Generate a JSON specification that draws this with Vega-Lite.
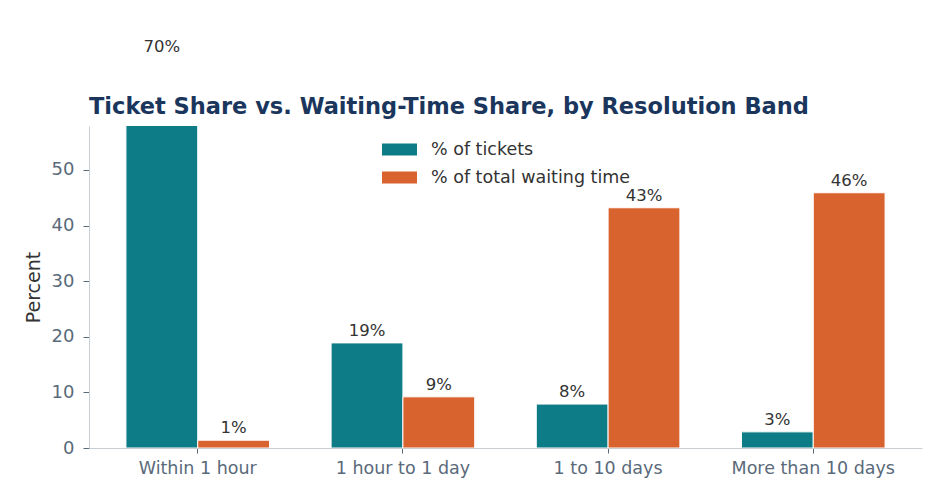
{
  "$schema": "https://vega.github.io/schema/vega-lite/v6.json",
  "width": 833,
  "height": 322,
  "autosize": {"type": "none"},
  "padding": {"left": 89, "top": 126, "right": 23, "bottom": 55},
  "background": "white",
  "title": {
    "text": "Ticket Share vs. Waiting-Time Share, by Resolution Band",
    "anchor": "start",
    "frame": "group",
    "font": "DejaVu Sans",
    "fontSize": 22.5,
    "fontWeight": "bold",
    "color": "#1b365d",
    "offset": -80
  },
  "config": {
    "view": {"stroke": null},
    "font": "DejaVu Sans"
  },
  "data": {
    "values": [
      {"band": "Within 1 hour", "series": "% of tickets", "value": 70.0, "label": "70%"},
      {"band": "Within 1 hour", "series": "% of total waiting time", "value": 1.4, "label": "1%"},
      {"band": "1 hour to 1 day", "series": "% of tickets", "value": 18.9, "label": "19%"},
      {"band": "1 hour to 1 day", "series": "% of total waiting time", "value": 9.2, "label": "9%"},
      {"band": "1 to 10 days", "series": "% of tickets", "value": 7.9, "label": "8%"},
      {"band": "1 to 10 days", "series": "% of total waiting time", "value": 43.2, "label": "43%"},
      {"band": "More than 10 days", "series": "% of tickets", "value": 2.9, "label": "3%"},
      {"band": "More than 10 days", "series": "% of total waiting time", "value": 45.9, "label": "46%"}
    ]
  },
  "encoding": {
    "x": {
      "field": "band",
      "type": "nominal",
      "sort": ["Within 1 hour", "1 hour to 1 day", "1 to 10 days", "More than 10 days"],
      "scale": {"paddingInner": 0.3, "paddingOuter": 0.18},
      "axis": {
        "title": null,
        "labelAngle": 0,
        "labelFontSize": 17.5,
        "labelColor": "#5a6a7a",
        "labelPadding": 6,
        "domainColor": "#c8cdd2",
        "tickColor": "#5a6a7a",
        "tickSize": 5,
        "tickBand": "center"
      }
    },
    "xOffset": {
      "field": "series",
      "type": "nominal",
      "sort": ["% of tickets", "% of total waiting time"]
    },
    "y": {
      "field": "value",
      "type": "quantitative",
      "scale": {"domain": [0, 57.9], "nice": false},
      "axis": {
        "title": "Percent",
        "titleFontSize": 19,
        "titleFontWeight": "normal",
        "titleColor": "#333333",
        "titlePadding": 8,
        "values": [0, 10, 20, 30, 40, 50],
        "grid": false,
        "labelFontSize": 18,
        "labelColor": "#5a6a7a",
        "labelPadding": 9,
        "domainColor": "#c8cdd2",
        "tickColor": "#5a6a7a",
        "tickSize": 6
      }
    }
  },
  "layer": [
    {
      "mark": {"type": "bar", "clip": true, "stroke": "white", "strokeWidth": 1},
      "encoding": {
        "color": {
          "field": "series",
          "type": "nominal",
          "sort": ["% of tickets", "% of total waiting time"],
          "scale": {"range": ["#0e7c86", "#d9632f"]},
          "legend": {
            "title": null,
            "orient": "none",
            "legendX": 293,
            "legendY": 6,
            "padding": 0,
            "symbolType": "M-1,-0.34H1V0.34H-1Z",
            "symbolSize": 1225,
            "symbolStrokeWidth": 0,
            "symbolOpacity": 1,
            "labelFontSize": 17.5,
            "labelColor": "#333333",
            "labelOffset": 14,
            "labelLimit": 0,
            "rowPadding": 2
          }
        }
      }
    },
    {
      "mark": {"type": "text", "clip": false, "baseline": "alphabetic", "dy": -7, "fontSize": 16.5, "color": "#333333"},
      "encoding": {
        "text": {"field": "label"}
      }
    }
  ]
}
